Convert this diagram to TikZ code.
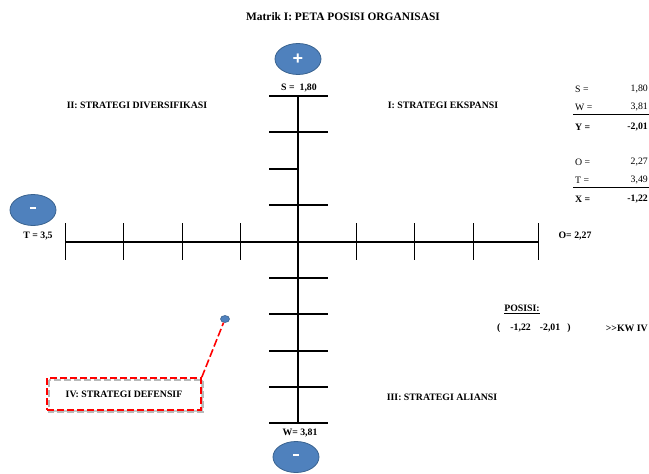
\documentclass[tikz,border=0pt]{standalone}
\usepackage{fontspec}
\setmainfont{Liberation Serif}
\newfontfamily\signfont{Liberation Sans}
\usepackage{tikz}
\usetikzlibrary{shapes.geometric}
\definecolor{signfill}{HTML}{4F81BD}
\definecolor{signline}{HTML}{3A6390}
\definecolor{boxred}{HTML}{FF0000}

\begin{document}
\begin{tikzpicture}[x=1pt,y=-1pt,
    lbl/.style={font=\bfseries\fontsize{9.8}{11}\selectfont, inner sep=0pt},
    tbl/.style={font=\fontsize{9.8}{11}\selectfont, inner sep=0pt},
    sign/.style={ellipse, draw=signline, line width=0.8pt, fill=signfill, minimum width=46pt, minimum height=31pt, inner sep=0pt, text=white, font=\signfont\bfseries\fontsize{18}{18}\selectfont},
    tickline/.style={line width=1.1pt}]
        \useasboundingbox (0,0) rectangle (649,474);
        % judul
        \node[lbl, font=\bfseries\fontsize{11.4}{13}\selectfont] (title) at (343,17) {Matrik I: PETA POSISI ORGANISASI};
        % sumbu
        \coordinate (top) at (298,96);
        \coordinate (bottom) at (298,423);
        \coordinate (left) at (65,242);
        \coordinate (right) at (538,242);
        \draw[line width=1.8pt] (left) -- (right);
        \draw[line width=2.8pt] (top) -- (bottom);
        % garis skala
        \foreach \y in {96,132,205,278,314,351,387,423}
            \draw[tickline] (269,\y) -- (328,\y);
        \draw[tickline] (269,169) -- (298,169);
        \foreach \x in {65,123,182,240,356,414,473,538}
            \draw[line width=1pt] (\x,223) -- (\x,260);
        % tanda + dan -
        \node[sign] (plus) at (298,59) {+};
        \node[sign] (minusT) at (33,210) {\rule[0.5ex]{6pt}{2.2pt}};
        \node[sign] (minusW) at (296,457) {\rule[0.5ex]{6pt}{2.2pt}};
        % nilai pada sumbu
        \node[lbl] (sval) at (299,88) {S =~~1,80};
        \node[lbl] (tval) at (38,236) {T =~3,5};
        \node[lbl] (oval) at (575,236) {O= 2,27};
        \node[lbl] (wval) at (300,433) {W= 3,81};
        % kuadran
        \node[lbl] (kw2) at (137,105) {II: STRATEGI DIVERSIFIKASI};
        \node[lbl] (kw1) at (443,105) {I: STRATEGI EKSPANSI};
        \node[lbl] (kw3) at (442,397) {III: STRATEGI ALIANSI};
        \fill[gray!45] (49,380) rectangle (203,412);
        \fill[white] (47,378) rectangle (201,410);
        \draw[gray!55, line width=1.6pt, dash pattern=on 7pt off 3pt] (49,380) rectangle (203,412);
        \node[lbl, draw=boxred, line width=1.6pt, dash pattern=on 7pt off 3pt, minimum width=154pt, minimum height=32pt] (kw4) at (124,394) {IV: STRATEGI DEFENSIF};
        % titik posisi
        \node[ellipse, draw=signline, fill=signfill, line width=0.6pt, minimum width=9pt, minimum height=7pt, inner sep=0pt] (dot) at (225,319) {};
        \draw[boxred, line width=1.6pt, dash pattern=on 8pt off 3pt] (kw4.north east) -- (dot);
        % posisi
        \node[lbl] (pos) at (522,309) {\underline{POSISI:}};
        \node[lbl, anchor=west] (posval) at (497,328) {(\hspace{10pt}-1,22\hspace{9pt}-2,01\hspace{7pt})};
        \node[lbl, anchor=east] (kw) at (648,328) {{>}{>}KW IV};
        % tabel hitungan
        \node[tbl, anchor=west] (sA) at (575,89) {S =};
        \node[tbl, anchor=east] (sB) at (648,89) {1,80};
        \node[tbl, anchor=west] (wA) at (575,107) {W =};
        \node[tbl, anchor=east] (wB) at (648,107) {3,81};
        \draw[line width=0.9pt] (573,114) -- (649,114);
        \node[lbl, anchor=west] (yA) at (575,127) {Y =};
        \node[lbl, anchor=east] (yB) at (648,127) {-2,01};
        \node[tbl, anchor=west] (oA) at (575,162) {O =};
        \node[tbl, anchor=east] (oB) at (648,162) {2,27};
        \node[tbl, anchor=west] (tA) at (575,180) {T =};
        \node[tbl, anchor=east] (tB) at (648,180) {3,49};
        \draw[line width=0.9pt] (573,187) -- (649,187);
        \node[lbl, anchor=west] (xA) at (575,199) {X =};
        \node[lbl, anchor=east] (xB) at (648,199) {-1,22};
    \end{tikzpicture}
\end{document}
